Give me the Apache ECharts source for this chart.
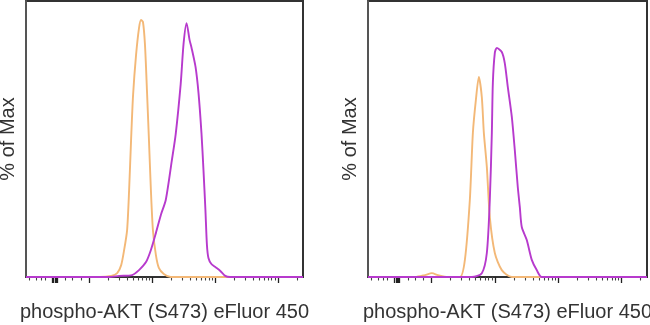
<!DOCTYPE html>
<html>
<head>
<meta charset="utf-8">
<script src="https://cdn.jsdelivr.net/npm/echarts@6/dist/echarts.min.js"></script>
<style>
html,body{margin:0;padding:0;background:#fff;}
#c{width:650px;height:325px;}
</style>
</head>
<body>
<div id="c"></div>
<script>
// x in display decades (biexponential-like scale), y in % of Max
const xLabel = 'phospho-AKT (S473) eFluor 450';
const yLabel = '% of Max';
const xRange = [0, 4.4];
const yRange = [0, 100];

const majorTicks = [0.42, 0.44, 0.46, 0.48, 0.50, 1, 2, 3, 4];
const minorTicks = [0.05, 0.16, 0.24, 0.31, 0.63, 0.74, 0.87,
  1.301, 1.477, 1.602, 1.699, 1.778, 1.845, 1.903, 1.954,
  2.301, 2.477, 2.602, 2.699, 2.778, 2.845, 2.903, 2.954,
  3.301, 3.477, 3.602, 3.699, 3.778, 3.845, 3.903, 3.954,
  4.301];

// Left panel
const leftControl = [[0,0],[1.165,0],[1.354,0.4],[1.449,1.4],[1.512,4.3],[1.559,9.8],[1.606,17.0],[1.638,31.5],[1.669,49.6],[1.701,66.0],[1.748,80.4],[1.795,90.2],[1.827,93.1],[1.858,92.4],[1.890,84.1],[1.921,67.8],[1.953,49.6],[1.984,31.5],[2.016,17.0],[2.063,8.0],[2.110,3.3],[2.189,1.1],[2.299,0],[4.4,0]];
const leftStained = [[0,0],[1.323,0],[1.480,0.4],[1.685,0.7],[1.795,2.5],[1.906,5.4],[1.984,9.8],[2.063,15.9],[2.142,22.5],[2.220,27.9],[2.315,42.0],[2.378,51.8],[2.457,69.9],[2.504,84.8],[2.551,92.0],[2.598,85.9],[2.630,83.0],[2.693,76.1],[2.740,66.7],[2.787,52.2],[2.819,38.8],[2.850,24.3],[2.874,11.6],[2.898,6.9],[2.945,4.7],[3.008,3.6],[3.087,2.2],[3.165,0.4],[3.244,0],[4.4,0]];

// Right panel
const rightControl = [[0,0],[0.740,0],[0.898,0.7],[1.008,1.4],[1.102,0.7],[1.260,0],[1.449,0],[1.528,6.2],[1.606,27.9],[1.654,52.2],[1.701,64.1],[1.748,72.5],[1.795,65.2],[1.827,52.2],[1.874,39.9],[1.921,21.7],[2.0,8.7],[2.110,2.5],[2.268,0],[4.4,0]];
const rightStained = [[0,0],[1.638,0],[1.795,1.4],[1.874,8.7],[1.921,27.9],[1.953,52.2],[1.969,70.3],[2.0,81.2],[2.031,83.0],[2.110,81.5],[2.157,77.5],[2.205,68.8],[2.268,58.0],[2.315,46.0],[2.362,32.6],[2.394,25.4],[2.425,18.1],[2.504,13.4],[2.583,6.2],[2.661,2.5],[2.740,0],[4.4,0]];

const orange = '#f3b877';
const purple = '#b73acd';
const font = 'Liberation Sans, Arial, sans-serif';

const grids = [
  {left: 26, top: 1, width: 277, height: 276},
  {left: 368, top: 1, width: 279, height: 276}
];

function xAxes(gi) {
  return [
    {
      type: 'value', gridIndex: gi, min: xRange[0], max: xRange[1], position: 'bottom',
      name: xLabel, nameLocation: 'middle', nameGap: 25,
      nameTextStyle: {fontFamily: font, fontSize: 20, color: '#333'},
      axisLine: {show: true, lineStyle: {color: '#333', width: 1.5}},
      axisTick: {show: true, customValues: majorTicks, length: 6, lineStyle: {color: '#222', width: 1.3}},
      axisLabel: {show: false},
      splitLine: {show: false}
    },
    {
      type: 'value', gridIndex: gi, min: xRange[0], max: xRange[1], position: 'bottom', offset: 0,
      axisLine: {show: false},
      axisTick: {show: true, customValues: minorTicks, length: 3.5, lineStyle: {color: '#444', width: 1.1}},
      axisLabel: {show: false},
      splitLine: {show: false}
    }
  ];
}

function yAxis(gi) {
  return {
    type: 'value', gridIndex: gi, min: yRange[0], max: yRange[1],
    name: yLabel, nameLocation: 'middle', nameGap: 8,
    nameTextStyle: {fontFamily: font, fontSize: 20, color: '#333'},
    axisLine: {show: true, lineStyle: {color: '#555', width: 2}},
    axisTick: {show: false}, axisLabel: {show: false}, splitLine: {show: false}
  };
}

function line(xi, yi, data, color, z) {
  return {
    type: 'line', xAxisIndex: xi, yAxisIndex: yi, data: data,
    showSymbol: false, smooth: 0.25, z: z,
    lineStyle: {color: color, width: 1.9}, animation: false
  };
}

const chart = echarts.init(document.getElementById('c'), null, {renderer: 'canvas'});
chart.setOption({
  animation: false,
  backgroundColor: '#fff',
  grid: grids.map(g => Object.assign({show: true, borderColor: '#333', borderWidth: 2, backgroundColor: '#fff', containLabel: false, outerBoundsMode: 'none'}, g)),
  xAxis: xAxes(0).concat(xAxes(1)),
  yAxis: [yAxis(0), yAxis(1)],
  series: [
    line(0, 0, leftControl, orange, 2),
    line(0, 0, leftStained, purple, 3),
    line(2, 1, rightControl, orange, 2),
    line(2, 1, rightStained, purple, 3)
  ]
});
</script>
</body>
</html>
